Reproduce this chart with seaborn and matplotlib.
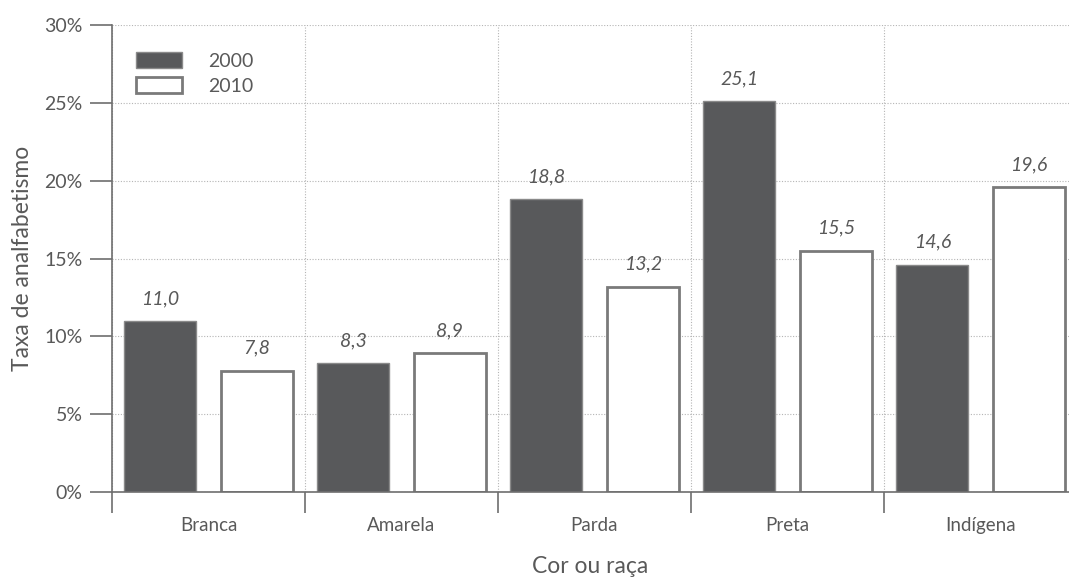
import pandas as pd
import matplotlib
matplotlib.use("Agg")
import matplotlib.pyplot as plt
import seaborn as sns
from matplotlib.patches import Patch

# Dados
categorias = ["Branca", "Amarela", "Parda", "Preta", "Indígena"]
anos = ["2000", "2010"]
taxa_2000 = [11.0, 8.3, 18.8, 25.1, 14.6]
taxa_2010 = [7.8, 8.9, 13.2, 15.5, 19.6]

df = pd.DataFrame({
    "cor": categorias * 2,
    "ano": [anos[0]] * len(categorias) + [anos[1]] * len(categorias),
    "taxa": taxa_2000 + taxa_2010,
})

sns.set_style("white")
plt.rcParams["font.family"] = ["Lato", "DejaVu Sans"]

cinza_txt = "#595959"
cor_2000 = "#58595b"

fig = plt.figure(figsize=(10.69, 5.78), dpi=100)
ax = fig.add_axes([112 / 1069, 1 - 492 / 578, 1 - 112 / 1069, (492 - 25) / 578])

sns.barplot(data=df, x="cor", y="taxa", hue="ano", order=categorias, hue_order=anos,
            palette={"2000": cor_2000, "2010": "white"}, width=1.0, gap=0.254,
            ax=ax, legend=False)

# bordas das barras
for patch in ax.containers[0]:
    patch.set_edgecolor("#8a8a8a")
    patch.set_linewidth(1.0)
for patch in ax.containers[1]:
    patch.set_edgecolor("#7a7a7a")
    patch.set_linewidth(2.0)

# rótulos dos valores
for cont, vals in zip(ax.containers, [taxa_2000, taxa_2010]):
    ax.bar_label(cont, labels=[f"{v:.1f}".replace(".", ",") for v in vals],
                 padding=10, fontsize=14, fontstyle="italic", color=cinza_txt)

# eixos
ax.set_ylim(0, 30)
ax.set_xlim(-0.5, 4.5 - 8 / 193)
ax.set_yticks(range(0, 31, 5))
ax.set_yticklabels([f"{v}%" for v in range(0, 31, 5)])
ax.set_xticks([i - 0.5 for i in range(5)])
ax.set_xticklabels([])
ax.set_xticks(range(5), minor=True)
ax.set_xticklabels(categorias, minor=True)

ax.tick_params(axis="y", which="major", direction="out", length=16, width=1.2,
               color="#6e6e6e", labelsize=14, labelcolor=cinza_txt, pad=5, left=True)
ax.tick_params(axis="x", which="major", direction="out", length=15, width=1.2,
               color="#6e6e6e", bottom=True)
ax.tick_params(axis="x", which="minor", length=0, labelsize=13.5, labelcolor=cinza_txt, pad=18)

ax.grid(True, axis="both", which="major", linestyle=(0, (1, 1.5)), color="#b5b5b5", linewidth=0.8)
ax.set_axisbelow(True)

for lado in ["top", "right"]:
    ax.spines[lado].set_visible(False)
for lado in ["left", "bottom"]:
    ax.spines[lado].set_color("#6e6e6e")
    ax.spines[lado].set_linewidth(1.2)

ax.set_ylabel("Taxa de analfabetismo", fontsize=16.5, color=cinza_txt, labelpad=8)
ax.set_xlabel("Cor ou raça", fontsize=16.5, color=cinza_txt, labelpad=16)

# legenda
handles = [Patch(facecolor=cor_2000, edgecolor="#8a8a8a", linewidth=1.0, label="2000"),
           Patch(facecolor="white", edgecolor="#7a7a7a", linewidth=2.0, label="2010")]
leg = ax.legend(handles=handles, loc="upper left", bbox_to_anchor=(0.007, 0.98), frameon=False,
                fontsize=14, handlelength=2.37, handleheight=0.93, handletextpad=1.34,
                labelspacing=0.35)
for t in leg.get_texts():
    t.set_color(cinza_txt)

fig.savefig("out.png", dpi=100)
